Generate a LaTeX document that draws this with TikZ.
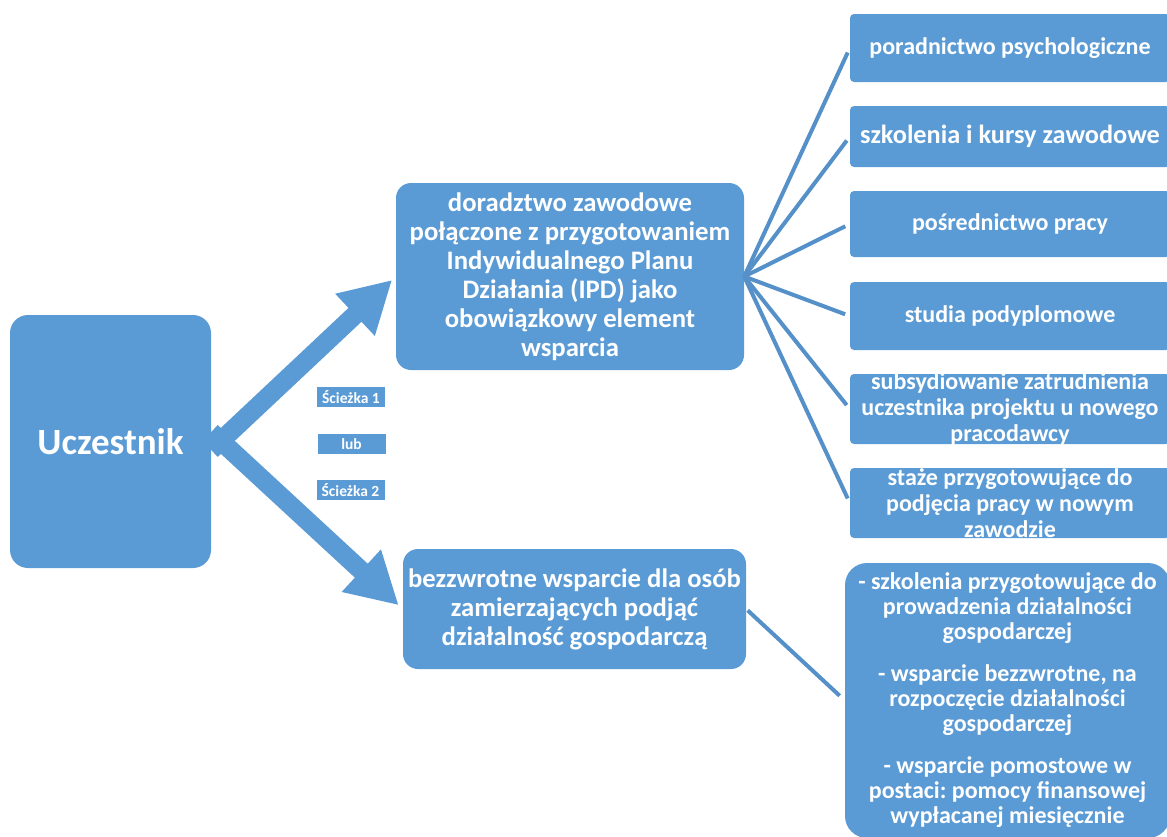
\documentclass[tikz,border=0pt]{standalone}
\usepackage{fontspec}
\setmainfont{Carlito}
\usepackage{tikz}
\usetikzlibrary{arrows.meta,calc}
\frenchspacing

\definecolor{boxblue}{HTML}{5B9BD5}
\definecolor{lineblue}{HTML}{5590C8}

\tikzset{
  box/.style={fill=boxblue, text=white, align=center, inner sep=0pt},
  midbox/.style={box, rounded corners=15pt, font=\bfseries\fontsize{26.7pt}{29pt}\selectfont},
  rbox/.style={box, rounded corners=4pt, minimum width=320pt, font=\bfseries\fontsize{24pt}{26pt}\selectfont},
  tag/.style={box, minimum width=68pt, minimum height=20pt, font=\bfseries\fontsize{15.5pt}{17pt}\selectfont},
  bigarrow/.style={draw=boxblue, line width=19pt, -{Triangle[length=51pt,width=54pt]}},
  fan/.style={draw=lineblue, line width=4pt, shorten >=5pt}
}

\begin{document}
\begin{tikzpicture}[x=1pt, y=-1pt]
    \useasboundingbox (0,0) rectangle (1167,836);

    % left and middle
    \node[box, rounded corners=18pt, minimum width=201pt, minimum height=253pt,
          font=\bfseries\fontsize{37pt}{40pt}\selectfont] (ucz) at (110.5,441.5) {Uczestnik};
    \node[midbox, minimum width=348pt, minimum height=187pt] (ipd) at (570,276.5)
        {doradztwo zawodowe\\ połączone z przygotowaniem\\ Indywidualnego Planu\\
         Działania (IPD) jako\\ obowiązkowy element\\ wsparcia};
    \node[midbox, minimum width=343pt, minimum height=120pt] (dzial) at (574.5,609)
        {bezzwrotne wsparcie dla osób\\ zamierzających podjąć\\ działalność gospodarczą};

    % path labels
    \node[tag] (sc1) at (351,396.7) {Ścieżka 1};
    \node[tag] (lub) at (351.5,443.7) {lub};
    \node[tag] (sc2) at (350.5,490) {Ścieżka 2};

    % right column
    \node[rbox, minimum height=68pt] (r1) at (1010,48) {poradnictwo psychologiczne};
    \node[rbox, minimum height=61pt, font=\bfseries\fontsize{26.3pt}{28pt}\selectfont] (r2) at (1010,136.5)
        {szkolenia i kursy zawodowe};
    \node[rbox, minimum height=66pt] (r3) at (1010,224) {pośrednictwo pracy};
    \node[rbox, minimum height=68pt] (r4) at (1010,316) {studia podyplomowe};
    \node[rbox, minimum height=70pt, inner ysep=-4pt] (r5) at (1010,409)
        {subsydiowanie zatrudnienia\\ uczestnika projektu u nowego\\ pracodawcy};
    \node[rbox, minimum height=70pt, inner ysep=-4pt] (r6) at (1010,503)
        {staże przygotowujące do\\ podjęcia pracy w nowym\\ zawodzie};
    \node[box, rounded corners=22pt, minimum width=325pt, minimum height=275pt,
          font=\bfseries\fontsize{24pt}{25pt}\selectfont] (firma) at (1007.5,700.5)
        {- szkolenia przygotowujące do\\ prowadzenia działalności\\ gospodarczej\\[17pt]
         - wsparcie bezzwrotne, na\\ rozpoczęcie działalności\\ gospodarczej\\[17pt]
         - wsparcie pomostowe w\\ postaci: pomocy finansowej\\ wypłacanej miesięcznie};

    % arrows
    \draw[bigarrow, shorten >=5pt] ($(ucz.east)+(0,8.5)$) -- (ipd.west);
    \draw[bigarrow, shorten >=5.5pt] ($(ucz.east)+(0,-9.5)$) -- (dzial.west);

    % connectors
    \foreach \i in {1,...,6}
        \draw[fan] (ipd.east) -- (r\i.west);
    \draw[fan, shorten <=2pt, shorten >=7pt] (dzial.east) -- (firma.west);
\end{tikzpicture}
\end{document}
